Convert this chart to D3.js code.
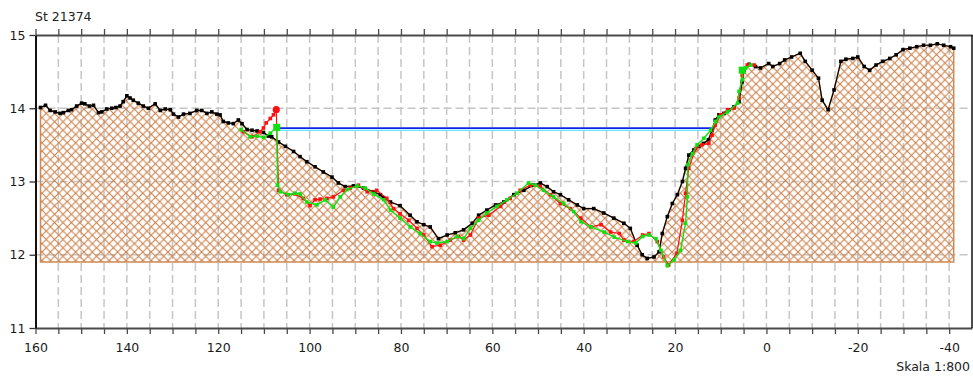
<!DOCTYPE html>
<html>
<head>
<meta charset="utf-8">
<script src="https://cdn.jsdelivr.net/npm/d3@7"></script>
<style>
  body { margin: 0; background: #fff; }
  text { font-family: "DejaVu Sans", sans-serif; }
</style>
</head>
<body>
<svg id="chart" width="973" height="376"></svg>
<script>
// terrain profile (black)
const groundX = [158.9,157.8,156.8,155.7,154.6,153.9,152.8,152.1,151.0,149.9,149.2,148.2,147.3,146.2,145.5,144.4,143.3,142.4,141.5,140.8,140.0,139.3,138.6,137.5,136.4,135.3,133.8,132.7,131.6,130.5,129.8,128.7,127.6,126.2,124.7,123.6,122.5,121.4,120.3,119.6,118.9,117.8,116.7,115.6,114.8,113.7,112.6,111.5,110.1,109.0,108.3,106.8,105.3,103.5,102.1,100.6,98.8,97.0,95.1,93.7,92.2,90.4,88.2,86.0,84.5,83.8,82.3,80.2,78.0,76.5,75.0,73.6,71.8,69.9,68.1,66.3,64.4,63.0,61.2,59.3,57.5,55.3,53.1,51.0,49.5,48.0,46.6,45.1,43.3,41.4,40.0,37.8,35.6,33.4,31.2,29.8,28.3,27.2,26.1,24.6,23.5,22.8,21.7,20.6,19.5,18.4,17.7,17.0,15.9,14.8,13.8,12.7,11.9,11.2,10.4,9.3,8.2,7.1,6.0,5.3,4.9,3.8,2.4,1.3,-0.5,-1.4,-2.9,-4.0,-5.5,-7.4,-8.5,-10.0,-11.4,-12.2,-13.5,-14.8,-16.3,-17.4,-18.9,-20.0,-21.4,-22.6,-24.0,-25.5,-27.0,-28.4,-29.9,-31.4,-32.9,-34.4,-35.9,-37.4,-38.8,-40.3,-41.0];
const groundY = [14.01,14.04,13.97,13.95,13.93,13.94,13.97,13.98,14.03,14.07,14.06,14.03,14.04,13.94,13.95,13.99,14.00,14.01,14.03,14.09,14.17,14.14,14.11,14.07,14.03,14.00,14.06,13.97,13.99,13.98,13.92,13.88,13.92,13.93,13.97,13.97,13.93,13.95,13.92,13.91,13.82,13.80,13.79,13.84,13.79,13.71,13.70,13.69,13.67,13.62,13.61,13.54,13.48,13.41,13.34,13.27,13.20,13.13,13.06,12.98,12.93,12.94,12.91,12.86,12.82,12.78,12.72,12.67,12.54,12.45,12.41,12.38,12.22,12.27,12.30,12.34,12.43,12.54,12.61,12.68,12.72,12.82,12.88,12.95,12.98,12.93,12.86,12.82,12.75,12.68,12.63,12.63,12.57,12.50,12.43,12.36,12.13,12.00,11.95,11.97,12.04,12.29,12.52,12.70,12.82,13.00,13.18,13.36,13.43,13.48,13.52,13.57,13.70,13.84,13.91,13.93,13.98,14.02,14.09,14.36,14.52,14.60,14.57,14.55,14.61,14.57,14.61,14.66,14.70,14.75,14.64,14.52,14.41,14.11,13.98,14.25,14.64,14.67,14.68,14.70,14.57,14.52,14.59,14.64,14.68,14.73,14.80,14.82,14.84,14.86,14.86,14.88,14.86,14.84,14.82];

// red survey line
const redX = [114.5,112.6,110.8,110.1,109.5,108.6,107.9,107.3,106.8,105.0,103.2,101.4,99.9,98.8,97.7,96.2,94.8,92.6,91.1,89.3,87.4,85.3,83.1,81.6,80.2,78.3,76.5,75.0,73.2,71.4,69.2,67.4,66.3,64.8,63.0,60.8,58.2,56.1,53.9,51.7,49.5,47.3,45.1,42.9,40.6,38.4,36.2,34.1,32.2,31.2,29.0,27.1,25.7,23.9,22.5,21.4,19.6,18.4,17.7,17.0,15.5,14.1,12.6,11.9,11.2,10.0,8.5,7.1,6.0,5.3,4.2,2.7];
const redY = [13.68,13.61,13.68,13.73,13.80,13.86,13.91,13.98,12.88,12.82,12.83,12.77,12.67,12.75,12.76,12.77,12.79,12.88,12.91,12.95,12.86,12.88,12.77,12.63,12.56,12.47,12.36,12.27,12.11,12.13,12.20,12.25,12.20,12.27,12.50,12.54,12.66,12.77,12.88,12.95,12.93,12.82,12.70,12.63,12.50,12.38,12.41,12.31,12.29,12.20,12.18,12.27,12.29,12.18,11.97,11.86,12.02,12.47,12.84,13.18,13.45,13.50,13.52,13.63,13.77,13.91,13.98,14.00,14.14,14.45,14.59,14.59];

// green survey line
const greenX = [115.0,113.0,111.5,110.1,108.6,107.2,107.0,106.4,104.6,103.2,102.1,100.6,98.4,96.6,94.8,93.3,91.8,89.6,87.8,86.0,83.8,82.3,80.2,78.0,75.8,73.6,72.1,69.9,67.7,66.3,64.8,63.0,61.2,59.0,56.8,54.6,52.1,50.6,48.8,46.6,44.4,42.2,40.6,38.4,35.5,33.3,30.4,28.6,27.1,25.7,24.2,23.1,21.7,20.2,18.8,17.7,17.3,17.2,16.2,15.2,13.7,12.2,11.1,10.4,8.5,6.3,6.0,5.3,5.3,4.5,3.4];
const greenY = [13.71,13.61,13.62,13.60,13.66,13.74,12.95,12.86,12.82,12.84,12.83,12.72,12.68,12.75,12.65,12.79,12.89,12.94,12.91,12.83,12.75,12.61,12.50,12.38,12.29,12.18,12.16,12.18,12.25,12.22,12.36,12.47,12.57,12.66,12.75,12.84,12.98,12.95,12.88,12.79,12.70,12.59,12.45,12.38,12.31,12.24,12.18,12.16,12.25,12.27,12.22,12.06,11.85,11.93,12.06,12.43,12.79,13.23,13.38,13.50,13.59,13.70,13.82,13.88,13.95,14.07,14.23,14.39,14.52,14.55,14.59];

// highlighted survey points
const redBig = [[107.3, 13.98]];
const greenBig = [[107.2, 13.74], [5.3, 14.52]];

// water level
const waterLevel = 13.73;
const waterFrom = 107.2;
const waterTo = 12.0;

const hatchBase = 11.9;

const xTicks = d3.range(160, -41, -5);
const yTicks = [11, 12, 13, 14, 15];
const yGrid = [12, 13, 14];

const title = "St 21374";
const scaleNote = "Skala 1:800";

const svg = d3.select("#chart");
const m = { left: 35.5, right: 972, top: 35, bottom: 328 };

const x = d3.scaleLinear().domain([160, -45]).range([m.left, m.right]);
const y = d3.scaleLinear().domain([11, 15]).range([m.bottom, m.top]);

const ground = groundX.map((d, i) => [d, groundY[i]]);
const red = redX.map((d, i) => [d, redY[i]]);
const green = greenX.map((d, i) => [d, greenY[i]]);

// hatch pattern
const defs = svg.append("defs");
const pat = defs.append("pattern")
  .attr("id", "hatch")
  .attr("patternUnits", "userSpaceOnUse")
  .attr("width", 8.4).attr("height", 8.4);
pat.append("path")
  .attr("d", "M0,0L8.4,8.4M8.4,0L0,8.4")
  .attr("stroke", "#cc8048")
  .attr("stroke-width", 1.1)
  .attr("fill", "none");

// grid
const grid = svg.append("g")
  .attr("stroke", "#c6c6c6")
  .attr("stroke-width", 1.5)
  .attr("stroke-dasharray", "8,4");
grid.selectAll(".vg").data(xTicks.filter(d => d !== 160)).enter().append("line")
  .attr("x1", d => x(d)).attr("x2", d => x(d))
  .attr("y1", m.top).attr("y2", m.bottom);
grid.selectAll(".hg").data(yGrid).enter().append("line")
  .attr("x1", m.left).attr("x2", m.right)
  .attr("y1", d => y(d)).attr("y2", d => y(d));

// hatched terrain
const area = d3.area()
  .x(d => x(d[0]))
  .y0(y(hatchBase))
  .y1(d => y(d[1]));
svg.append("path")
  .datum(ground)
  .attr("d", area)
  .attr("fill", "url(#hatch)")
  .attr("stroke", "#d08a55")
  .attr("stroke-width", 1.5);

// water level line
svg.append("line")
  .attr("x1", x(waterFrom)).attr("x2", x(waterTo))
  .attr("y1", y(waterLevel) + 2.2).attr("y2", y(waterLevel) + 2.2)
  .attr("stroke", "#30e0ff").attr("stroke-width", 1.2);
svg.append("line")
  .attr("x1", x(waterFrom)).attr("x2", x(waterTo))
  .attr("y1", y(waterLevel)).attr("y2", y(waterLevel))
  .attr("stroke", "#1020e8").attr("stroke-width", 1.8);

const line = d3.line().x(d => x(d[0])).y(d => y(d[1]));

function series(data, color, w, size) {
  const g = svg.append("g");
  g.append("path").datum(data)
    .attr("d", line)
    .attr("fill", "none")
    .attr("stroke", color)
    .attr("stroke-width", w);
  g.selectAll("rect").data(data).enter().append("rect")
    .attr("x", d => x(d[0]) - size / 2)
    .attr("y", d => y(d[1]) - size / 2)
    .attr("width", size).attr("height", size)
    .attr("fill", color);
  return g;
}

series(ground, "#000", 1.2, 3.6);
series(red, "#ff1010", 1.2, 3.6);
series(green, "#10e010", 1.4, 3.6);

svg.selectAll(".rbig").data(redBig).enter().append("circle")
  .attr("cx", d => x(d[0])).attr("cy", d => y(d[1]))
  .attr("r", 3.6).attr("fill", "#ff1010");
svg.selectAll(".gbig").data(greenBig).enter().append("rect")
  .attr("x", d => x(d[0]) - 3.5).attr("y", d => y(d[1]) - 3.5)
  .attr("width", 7).attr("height", 7).attr("fill", "#10e010");

// axes
const fmt = d => (d % 20 === 0 ? String(d) : "");
const xb = svg.append("g")
  .attr("transform", "translate(0," + m.bottom + ")")
  .call(d3.axisBottom(x).tickValues(xTicks).tickFormat(fmt).tickSize(6).tickPadding(9).tickSizeOuter(0));
const xt = svg.append("g")
  .attr("transform", "translate(0," + m.top + ")")
  .call(d3.axisTop(x).tickValues(xTicks).tickFormat("").tickSize(6).tickSizeOuter(0));
const yl = svg.append("g")
  .attr("transform", "translate(" + m.left + ",0)")
  .call(d3.axisLeft(y).tickValues(yTicks).tickFormat(d3.format("d")).tickSize(6).tickPadding(4).tickSizeOuter(0));

[xb, xt].forEach(g => {
  g.select(".domain").attr("stroke", "#4a4a4a").attr("stroke-width", 2);
  g.selectAll(".tick line").attr("stroke", "#4a4a4a").attr("stroke-width", 1.3);
});
yl.select(".domain").attr("stroke", "#111").attr("stroke-width", 2);
yl.selectAll(".tick line").attr("stroke", "#333").attr("stroke-width", 1.3);
svg.selectAll(".tick text")
  .attr("fill", "#1a1a1a")
  .style("font-size", "12.5px")
  .style("font-family", "'DejaVu Sans', sans-serif");

svg.append("line")
  .attr("x1", m.right).attr("x2", m.right)
  .attr("y1", m.top).attr("y2", m.bottom)
  .attr("stroke", "#111").attr("stroke-width", 1.5);

svg.append("text")
  .attr("x", 35).attr("y", 21)
  .attr("fill", "#222")
  .style("font-size", "12.5px")
  .text(title);

svg.append("text")
  .attr("x", 970).attr("y", 371)
  .attr("text-anchor", "end")
  .attr("fill", "#222")
  .style("font-size", "12.5px")
  .text(scaleNote);
</script>
</body>
</html>
